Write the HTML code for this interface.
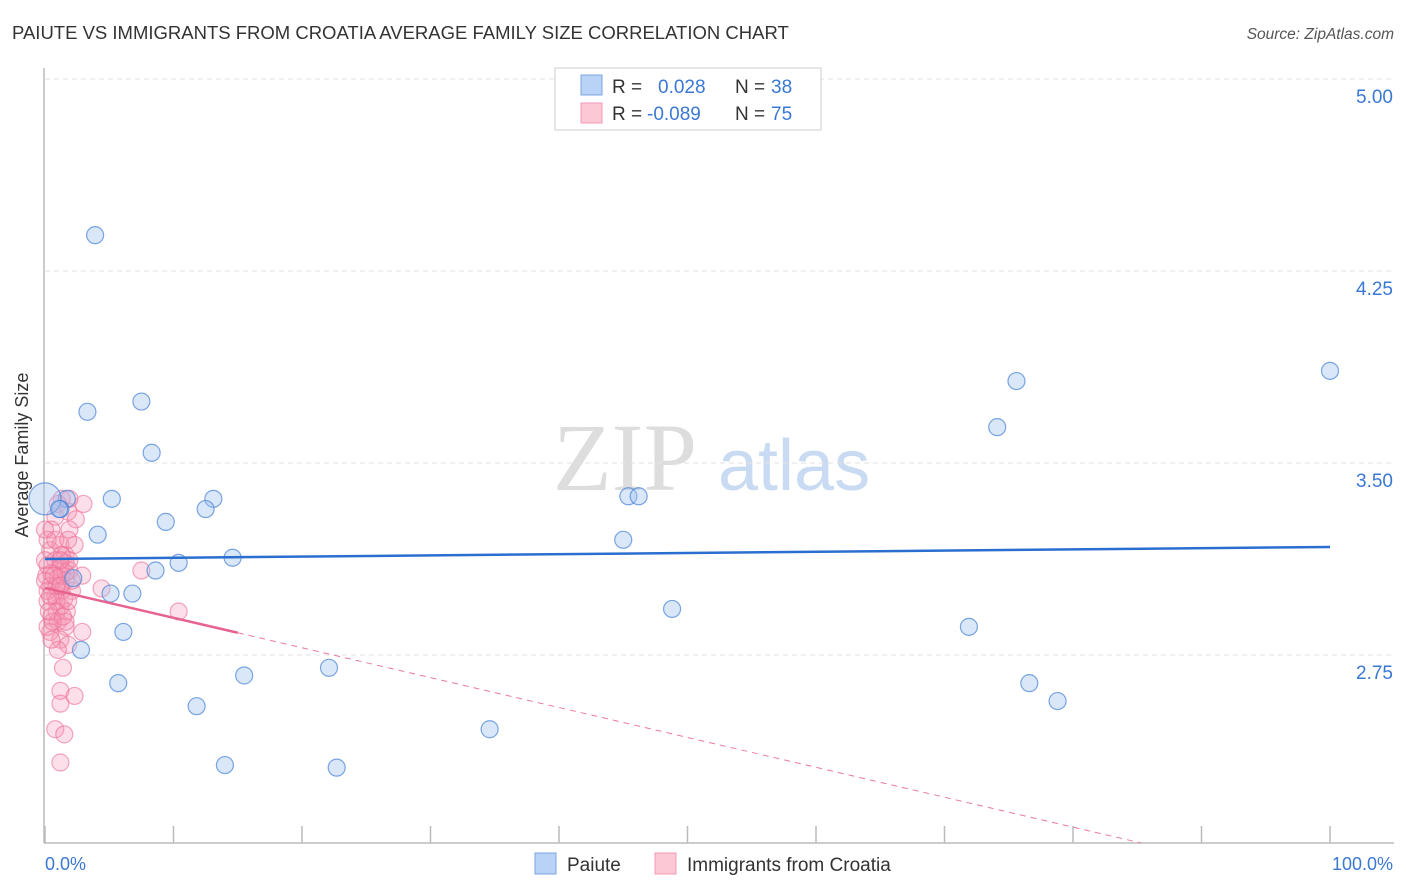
<!DOCTYPE html>
<html><head><meta charset="utf-8"><style>
body{margin:0;background:#fff;font-family:"Liberation Sans",sans-serif}
svg{display:block}
</style></head><body>
<svg id="chart" width="1406" height="892">
<text x="12" y="39" font-size="18.5" fill="#333">PAIUTE VS IMMIGRANTS FROM CROATIA AVERAGE FAMILY SIZE CORRELATION CHART</text>
<text x="1394" y="39" font-size="15.5" fill="#555" font-style="italic" text-anchor="end">Source: ZipAtlas.com</text>
<g>
<text x="553" y="490" font-family="Liberation Serif,serif" font-size="96" fill="#ddd">ZIP</text>
<text x="718" y="490" font-size="72" fill="#c9dbf3">atlas</text>
</g>
<g id="grid"></g>
<line x1="44" y1="68" x2="44" y2="843" stroke="#bbb" stroke-width="1.5"/>
<line x1="44" y1="843" x2="1394" y2="843" stroke="#bbb" stroke-width="1.5"/>
<g id="xticks"></g>
<text x="28" y="455" font-size="18" fill="#333" text-anchor="middle" transform="rotate(-90 28 455)">Average Family Size</text>
<text x="45" y="870" font-size="18" fill="#3a78d4">0.0%</text>
<text x="1393" y="870" font-size="18" fill="#3a78d4" text-anchor="end">100.0%</text>
<g id="pts"></g>
<g id="lines"></g>
<g>
<rect x="555" y="68" width="266" height="62" fill="#fff" stroke="#ccc"/>
<rect x="581" y="75" width="21" height="20" fill="#b8d3f5" stroke="#7aa6e0"/>
<rect x="581" y="103" width="21" height="20" fill="#fcc8d6" stroke="#f29ab3"/>
<text x="612" y="93" font-size="19" fill="#333">R =</text>
<text x="658" y="93" font-size="19" fill="#3a78d4">0.028</text>
<text x="735" y="93" font-size="19" fill="#333">N =</text>
<text x="771" y="93" font-size="19" fill="#3a78d4">38</text>
<text x="612" y="120" font-size="19" fill="#333">R =</text>
<text x="647" y="120" font-size="19" fill="#3a78d4">-0.089</text>
<text x="735" y="120" font-size="19" fill="#333">N =</text>
<text x="771" y="120" font-size="19" fill="#3a78d4">75</text>
</g>
<g>
<rect x="535" y="853" width="21" height="21" fill="#b8d3f5" stroke="#7aa6e0"/>
<text x="567" y="871" font-size="19" fill="#333">Paiute</text>
<rect x="655" y="853" width="21" height="21" fill="#fcc8d6" stroke="#f29ab3"/>
<text x="687" y="871" font-size="19" fill="#333">Immigrants from Croatia</text>
</g>
</svg>
<script>
const yTicks=[5.00,4.25,3.50,2.75];
const yTickLabels=["5.00","4.25","3.50","2.75"];
const xTicks=[0,10,20,30,40,50,60,70,80,90,100];
const paiuteX=[3.9,3.3,7.5,8.3,5.2,1.7,1.2,4.1,9.4,13.1,12.5,10.4,14.6,8.6,5.1,6.8,2.2,6.1,2.8,5.7,11.8,15.5,22.1,14.0,22.7,34.6,45.0,45.4,46.2,48.8,71.9,76.6,78.8,74.1,75.6,100,0,1.1];
const paiuteY=[4.39,3.70,3.74,3.54,3.36,3.36,3.32,3.22,3.27,3.36,3.32,3.11,3.13,3.08,2.99,2.99,3.05,2.84,2.77,2.64,2.55,2.67,2.70,2.32,2.31,2.46,3.20,3.37,3.37,2.93,2.86,2.64,2.57,3.64,3.82,3.86,3.36,3.32];
const croatiaX=[1.3,3.0,1.8,2.4,0.8,0.5,1.9,1.2,0.4,1.6,0.8,0.2,1.2,1.9,0.5,1.0,1.6,0.4,1.3,2.1,0.8,0.2,1.2,1.7,0.5,1.0,1.6,0.4,1.2,1.8,4.4,7.5,10.4,2.9,1.4,1.2,2.3,1.2,0.8,1.5,1.2,1.6,0,0.1,0.2,1.9,1.0,2.3,2.9,1.5,0.9,1.9,0.2,0.8,1.3,1.8,0,0.9,1.3,0.4,0.9,0.2,1.6,1.0,0.6,0,1.6,2.1,1.2,0.7,0.3,1.2,1.8,1.4,0.5];
const croatiaY=[3.36,3.34,3.31,3.28,3.29,3.24,3.24,3.18,3.16,3.14,3.12,3.10,3.09,3.08,3.07,3.05,3.04,3.02,3.00,3.00,2.98,2.96,2.94,2.92,2.90,2.88,2.86,2.84,2.81,2.79,3.01,3.08,2.92,2.84,2.70,2.61,2.59,2.56,2.46,2.44,2.33,3.11,3.12,3.06,3.00,3.36,3.34,3.18,3.06,2.97,2.96,3.12,3.20,3.20,3.14,3.20,3.04,3.02,3.06,2.98,2.92,2.86,2.88,2.77,2.88,3.24,3.07,3.04,3.12,3.06,2.92,3.02,2.96,2.90,2.81];
const paiuteTrend=[3.125,3.172];
const croatiaTrend=[3.012,1.844];
const croatiaSolidEnd=15;
const yBottom=2.016;
const NS="http://www.w3.org/2000/svg";
const sx=v=>45+v*12.85, sy=v=>79+(5-v)*256;
function mk(t,a,p){const e=document.createElementNS(NS,t);for(const k in a)e.setAttribute(k,a[k]);p.appendChild(e);return e;}
const grid=document.getElementById('grid');
yTicks.forEach((v,i)=>{
 const l=mk('line',{x1:45,x2:1394,y1:sy(v),y2:sy(v),stroke:'#e2e2e2','stroke-dasharray':'5,4'},grid);
 
 
 const t=mk('text',{x:1393,y:sy(v)+24,'font-size':19,fill:'#3a78d4','text-anchor':'end'},grid);
 t.textContent=yTickLabels[i];
 
 
});
const xt=document.getElementById('xticks');
xTicks.forEach(v=>{
 const l=mk('line',{x1:sx(v),x2:sx(v),y1:826,y2:843,stroke:'#bbb','stroke-width':1.5},xt);
 
 
});
const pts=document.getElementById('pts');
croatiaX.forEach((x,i)=>{
 const c=mk('circle',{cx:sx(x),cy:sy(croatiaY[i]),r:8.5,fill:'rgba(246,150,180,0.3)',stroke:'rgba(236,110,150,0.6)','stroke-width':1.2},pts);
 
 
});
paiuteX.forEach((x,i)=>{
 const big=(i===36);
 const c=mk('circle',{cx:sx(x),cy:sy(paiuteY[i]),r:big?16:8.5,fill:'rgba(160,196,240,0.4)',stroke:'rgba(70,130,215,0.7)','stroke-width':1.2},pts);
 
 
});
const ln=document.getElementById('lines');
const bl=mk('line',{x1:sx(0),y1:sy(paiuteTrend[0]),x2:sx(100),y2:sy(paiuteTrend[1]),stroke:'#2a6fd0','stroke-width':2.5},ln);


const cy=x=>croatiaTrend[0]+(croatiaTrend[1]-croatiaTrend[0])*x/100;
const xEnd=Math.min(100,(yBottom-croatiaTrend[0])/(croatiaTrend[1]-croatiaTrend[0])*100);
const pd=mk('line',{x1:sx(croatiaSolidEnd),y1:sy(cy(croatiaSolidEnd)),x2:sx(xEnd),y2:sy(cy(xEnd)),stroke:'#ec7aa0','stroke-width':1,'stroke-dasharray':'6,5'},ln);


const ps=mk('line',{x1:sx(0),y1:sy(cy(0)),x2:sx(croatiaSolidEnd),y2:sy(cy(croatiaSolidEnd)),stroke:'#e8628f','stroke-width':2.5},ln);


</script>
</body></html>
